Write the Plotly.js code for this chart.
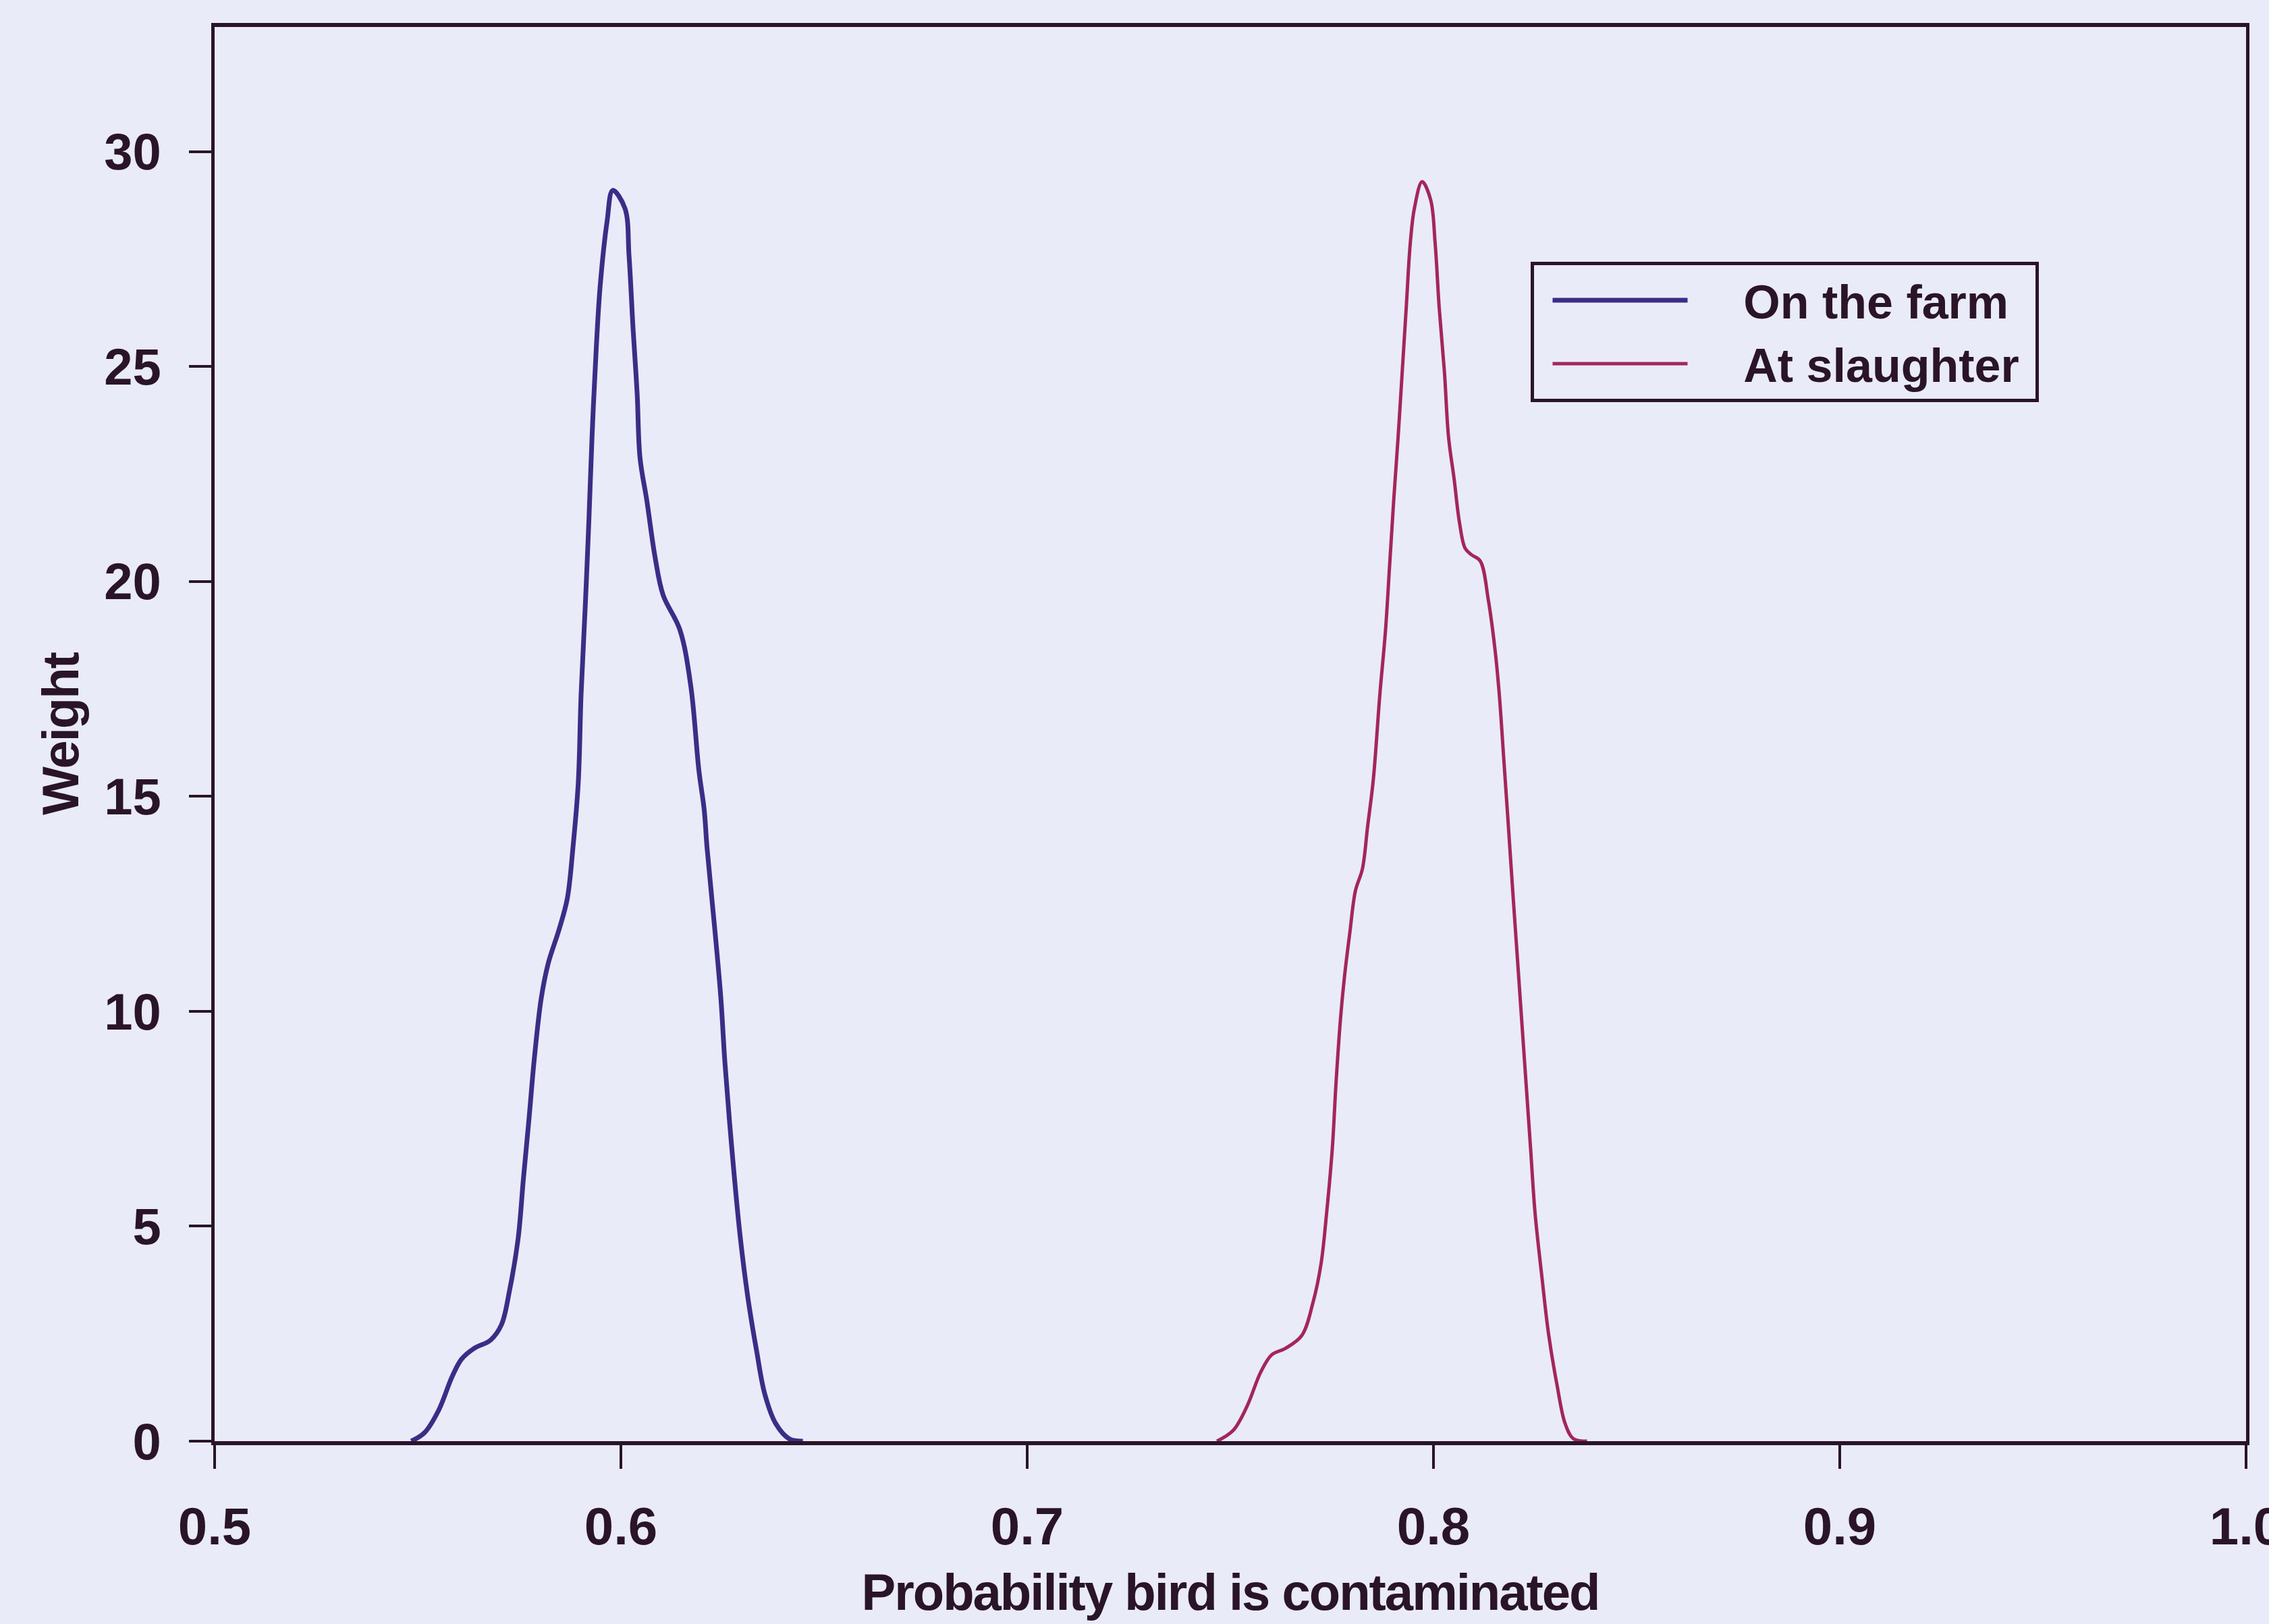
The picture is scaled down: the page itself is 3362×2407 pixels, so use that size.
<!DOCTYPE html>
<html>
<head>
<meta charset="utf-8">
<script src="https://cdn.plot.ly/plotly-3.0.1.min.js"></script>
<style>
  html, body { margin: 0; padding: 0; background: #e9ebf8; }
  #chart { width: 3362px; height: 2407px; }
  .xtitle, .ytitle { letter-spacing: -2px; }
</style>
</head>
<body>
<div id="chart"></div>
<script>
// Series: "On the farm"
const farmX = [0.5484, 0.5517, 0.5551, 0.5585, 0.5608, 0.5639, 0.5679, 0.5706, 0.5726, 0.5747,
               0.5760, 0.5774, 0.5787, 0.5804, 0.5821, 0.5848, 0.5868, 0.5882, 0.5895, 0.5902,
               0.5912, 0.5921, 0.5929, 0.5939, 0.5949, 0.5966, 0.5980, 0.6010, 0.6020, 0.6030,
               0.6040, 0.6047, 0.6064, 0.6084, 0.6104, 0.6145, 0.6172, 0.6192, 0.6205, 0.6212,
               0.6232, 0.6246, 0.6256, 0.6273, 0.6293, 0.6313, 0.6334, 0.6354, 0.6381, 0.6415, 0.6448];
const farmY = [0, 0.20, 0.71, 1.51, 1.91, 2.16, 2.35, 2.71, 3.51, 4.71,
               6.10, 7.52, 8.91, 10.31, 11.11, 11.91, 12.62, 13.81, 15.31, 17.37,
               19.37, 21.37, 23.38, 25.37, 26.88, 28.38, 29.10, 28.68, 27.58, 25.87,
               24.37, 22.88, 21.87, 20.57, 19.68, 18.88, 17.57, 15.60, 14.69, 13.81,
               11.82, 10.31, 8.81, 6.81, 4.81, 3.31, 2.10, 1.10, 0.41, 0.05, 0];

// Series: "At slaughter"
const slaughterX = [0.7467, 0.7507, 0.7541, 0.7575, 0.7602, 0.7636, 0.7676, 0.7703, 0.7723, 0.7737,
                    0.7751, 0.7760, 0.7771, 0.7781, 0.7794, 0.7808, 0.7825, 0.7838, 0.7852, 0.7868,
                    0.7882, 0.7892, 0.7902, 0.7913, 0.7923, 0.7933, 0.7943, 0.7953, 0.7972, 0.7993,
                    0.8004, 0.8014, 0.8027, 0.8037, 0.8051, 0.8064, 0.8078, 0.8094, 0.8115, 0.8135,
                    0.8152, 0.8162, 0.8173, 0.8183, 0.8195, 0.8206, 0.8217, 0.8228, 0.8239, 0.8250,
                    0.8267, 0.8283, 0.8304, 0.8324, 0.8344, 0.8378];
const slaughterY = [0, 0.25, 0.81, 1.61, 2.01, 2.16, 2.46, 3.21, 4.11, 5.31,
                    6.81, 8.31, 9.81, 10.81, 11.82, 12.81, 13.31, 14.31, 15.40, 17.37,
                    18.87, 20.37, 21.87, 23.37, 24.87, 26.38, 27.88, 28.68, 29.30, 28.88,
                    27.88, 26.38, 24.87, 23.37, 22.37, 21.37, 20.77, 20.62, 20.48, 19.57,
                    18.37, 17.37, 15.87, 14.50, 12.81, 11.31, 9.81, 8.31, 6.81, 5.31,
                    3.81, 2.51, 1.31, 0.41, 0.06, 0];

const seriesNames = ["On the farm", "At slaughter"];
const xTicks = [0.5, 0.6, 0.7, 0.8, 0.9, 1.0];
const xTickLabels = ["0.5", "0.6", "0.7", "0.8", "0.9", "1.0"];
const yTicks = [0, 5, 10, 15, 20, 25, 30];
const yTickLabels = ["0", "5", "10", "15", "20", "25", "30"];

const BG = '#e9ebf8';
const INK = '#2a1428';
const FONT = 'Liberation Sans, Arial, sans-serif';
const PAD = '\u00a0\u00a0\u00a0\u00a0';

const traces = [
  {
    x: farmX, y: farmY, name: PAD + seriesNames[0] + '\u00a0', type: 'scatter', mode: 'lines',
    line: { color: '#3b2d86', width: 7, shape: 'spline', smoothing: 1.0 }
  },
  {
    x: slaughterX, y: slaughterY, name: PAD + seriesNames[1] + '\u00a0', type: 'scatter', mode: 'lines',
    line: { color: '#a3265a', width: 5, shape: 'spline', smoothing: 1.0 }
  }
];

const layout = {
  width: 3362, height: 2407,
  paper_bgcolor: BG, plot_bgcolor: BG,
  margin: { l: 318, r: 34, t: 40, b: 271, pad: 0 },
  font: { family: FONT, color: INK, size: 76, weight: 'bold' },
  showlegend: true,
  legend: {
    x: 0.648, y: 0.834, xanchor: 'left', yanchor: 'top',
    bgcolor: BG, bordercolor: INK, borderwidth: 5,
    font: { family: FONT, size: 70, color: INK, weight: 'bold' },
    itemwidth: 200, indentation: 22, tracegroupgap: 0
  },
  xaxis: {
    range: [0.5, 1.0], tickvals: xTicks, ticktext: xTickLabels,
    ticks: 'outside', ticklen: 35, tickwidth: 4, tickcolor: INK,
    showline: true, linewidth: 6, linecolor: INK, mirror: true,
    showgrid: false, zeroline: false, automargin: false,
    ticklabeloverflow: 'allow',
    tickfont: { family: FONT, size: 78, color: INK, weight: 'bold' },
    ticklabelstandoff: 18,
    title: { text: 'Probability bird is contaminated', standoff: 30,
             font: { family: FONT, size: 76, color: INK, weight: 'bold' } }
  },
  yaxis: {
    range: [0, 32.9], tickvals: yTicks, ticktext: yTickLabels,
    ticks: 'outside', ticklen: 33, tickwidth: 4, tickcolor: INK,
    showline: true, linewidth: 5, linecolor: INK, mirror: true,
    showgrid: false, zeroline: false, automargin: false,
    tickfont: { family: FONT, size: 76, color: INK, weight: 'bold' },
    ticklabelstandoff: 26,
    title: { text: 'Weight', standoff: 14,
             font: { family: FONT, size: 76, color: INK, weight: 'bold' } }
  }
};

Plotly.newPlot('chart', traces, layout, { displayModeBar: false, staticPlot: true });
</script>
</body>
</html>
